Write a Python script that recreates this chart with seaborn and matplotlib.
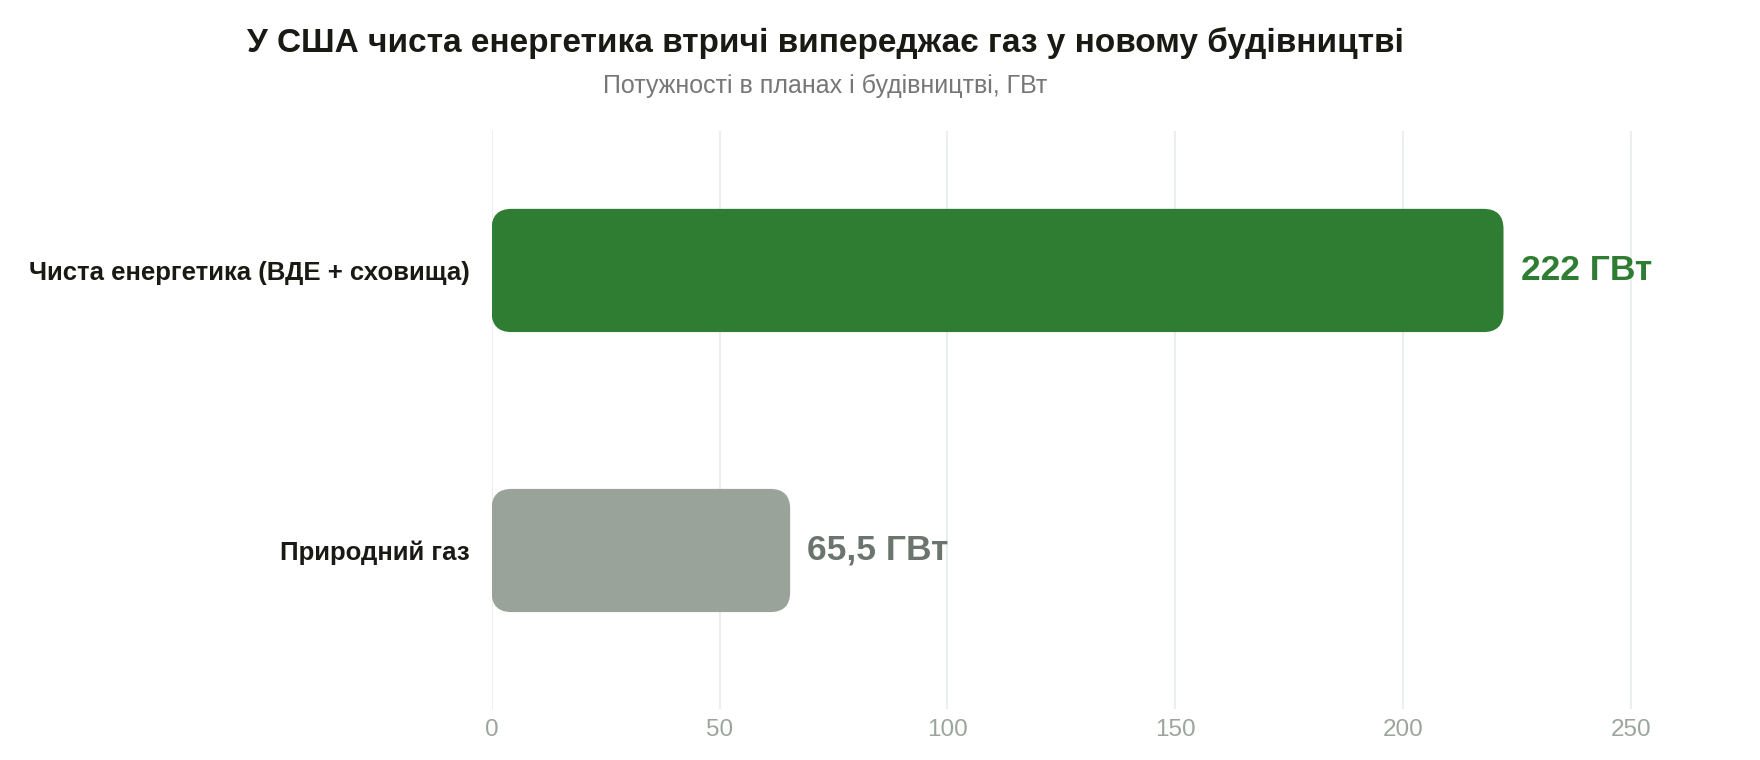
import matplotlib
matplotlib.use("Agg")
import matplotlib.pyplot as plt
import seaborn as sns
import pandas as pd
from matplotlib.patches import FancyBboxPatch

categories = ["Чиста енергетика (ВДЕ + сховища)", "Природний газ"]
values = [222, 65.5]
value_labels = ["222 ГВт", "65,5 ГВт"]
bar_colors = ["#2e7d32", "#99a39a"]
label_colors = ["#2e7d32", "#6b756e"]
xticks = [0, 50, 100, 150, 200, 250]
title = "У США чиста енергетика втричі випереджає газ у новому будівництві"
subtitle = "Потужності в планах і будівництві, ГВт"

sns.set_theme(style="white")
plt.rcParams["font.family"] = ["Liberation Sans", "DejaVu Sans"]

W, H = 1760, 760
fig = plt.figure(figsize=(W / 100, H / 100), dpi=100)
left_px, right_px = 491.6, 1699.5
top_px, bot_px = 131, 709
ax = fig.add_axes([left_px / W, 1 - bot_px / H, (right_px - left_px) / W, (bot_px - top_px) / H])

df = pd.DataFrame({"cat": categories, "val": values})
sns.barplot(data=df, x="val", y="cat", hue="cat", palette=bar_colors, width=0.44,
            legend=False, ax=ax, orient="h")

xmax = 265
ax.set_xlim(0, xmax)
ax.set_ylim(1.566, -0.498)

# convert bars to rounded rectangles
px_per_x = (right_px - left_px) / xmax
px_per_y = (bot_px - top_px) / (1.566 + 0.498)
radius_px = 20
rs = radius_px / px_per_x
aspect = px_per_x / px_per_y
patches = list(ax.patches)
for p, col in zip(patches, bar_colors):
    x0, y0 = p.get_x(), p.get_y()
    w, h = p.get_width(), p.get_height()
    p.remove()
    fb = FancyBboxPatch((x0, y0), w, h,
                        boxstyle=f"round,pad=0,rounding_size={rs}",
                        mutation_aspect=aspect, facecolor=col, edgecolor="none",
                        zorder=3)
    ax.add_patch(fb)

for i, (v, lab, c) in enumerate(zip(values, value_labels, label_colors)):
    ax.text(v + 17 / px_per_x, i, lab, ha="left", va="center", fontsize=25.5,
            fontweight="bold", color=c, zorder=4)

ax.set_xticks(xticks)
ax.set_xticklabels([str(t) for t in xticks])
ax.tick_params(axis="x", length=0, pad=7, labelsize=17.5, labelcolor="#9aa59c")
ax.tick_params(axis="y", length=0, pad=16, labelsize=18.5)
for t in ax.get_yticklabels():
    t.set_fontweight("bold")
    t.set_color("#1a1a14")
ax.set_xlabel("")
ax.set_ylabel("")
ax.grid(axis="x", color="#e8ece8", linewidth=1.2, zorder=0)
ax.grid(axis="y", visible=False)
ax.set_axisbelow(True)
for s in ax.spines.values():
    s.set_visible(False)

fig.text(825.5 / W, 1 - 43 / H, title, ha="center", va="center", fontsize=24,
         fontweight="bold", color="#1a1a14")
fig.text(825 / W, 1 - 86 / H, subtitle, ha="center", va="center", fontsize=18,
         color="#777777")

fig.savefig("out.png", dpi=100, facecolor="white")
